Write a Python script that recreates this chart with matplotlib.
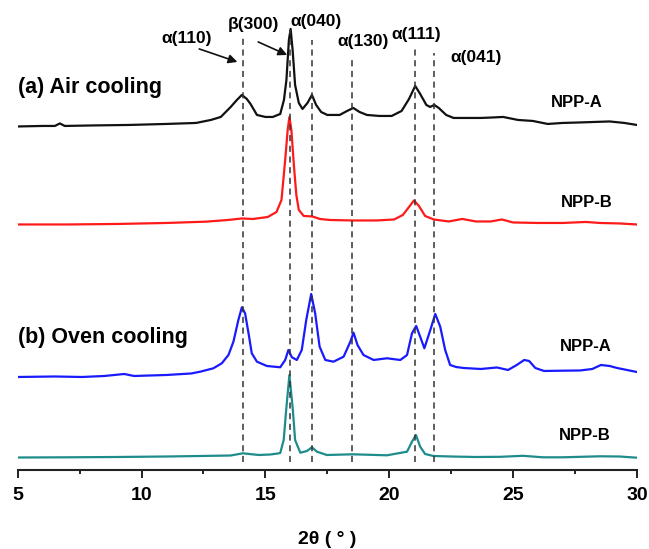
import matplotlib.pyplot as plt
from matplotlib.ticker import MultipleLocator

plt.rcParams['font.family'] = 'Liberation Sans'
plt.rcParams['font.weight'] = 'bold'

# (a) air cooling, NPP-A
air_a_2theta = [5.0, 6.0, 6.5, 6.7, 6.9, 8.0, 9.5, 11.0, 12.2, 12.8, 13.2, 13.6, 13.85, 14.05, 14.25,
                14.4, 14.66, 15.0, 15.3, 15.6, 15.75, 15.85, 15.95, 16.02, 16.1, 16.2, 16.35, 16.5, 16.7,
                16.88, 17.05, 17.25, 17.5, 18.0, 18.3, 18.55, 18.8, 19.1, 19.6, 20.1, 20.5, 20.8, 21.05,
                21.25, 21.5, 21.65, 21.82, 22.0, 22.3, 22.6, 23.2, 23.7, 24.2, 24.6, 25.2, 25.8, 26.4,
                27.0, 27.7, 28.3, 28.9, 29.5, 30.0]
air_a_counts = [3.5, 4, 4, 6.5, 4, 4.5, 5, 6, 7, 10, 13, 23, 30, 35, 31,
                26, 15, 13, 13, 16, 30, 50, 90, 101, 80, 45, 27, 21, 27,
                35, 25, 18, 15, 15, 19, 22, 18, 15, 14, 14, 19, 31, 44,
                36, 25, 23, 25, 22, 15, 12, 12, 12, 12.5, 13, 10, 9, 6,
                7, 7.5, 8, 8.5, 7, 5]

# (a) air cooling, NPP-B
air_b_2theta = [5.0, 7.0, 9.0, 11.0, 12.6, 13.5, 14.05, 14.5, 15.1, 15.45, 15.65, 15.8, 15.9, 15.97,
                16.05, 16.15, 16.25, 16.35, 16.55, 16.9, 17.2, 17.6, 18.5, 19.5, 20.2, 20.55, 20.8, 21.0,
                21.2, 21.45, 21.8, 22.4, 22.95, 23.5, 24.1, 24.55, 25.0, 26.0, 27.0, 27.95, 28.5, 29.3, 30.0]
air_b_counts = [5.5, 5.5, 6, 7, 8.3, 10, 11.5, 11, 13, 18, 30, 70, 100, 113,
                100, 65, 35, 20, 14, 13.5, 11, 10, 9.5, 9.5, 10.5, 15, 23, 29.5,
                24, 14, 10.5, 8.5, 11, 8.5, 8.5, 10.5, 7.5, 7, 7, 8, 7, 6.5, 5.5]

# (b) oven cooling, NPP-A
oven_a_2theta = [5.0, 6.5, 7.6, 8.5, 9.3, 9.7, 11.0, 12.0, 12.37, 12.9, 13.24, 13.51, 13.71, 13.91,
                 14.05, 14.18, 14.32, 14.45, 14.66, 15.06, 15.6, 15.8, 15.93, 16.07, 16.27, 16.47, 16.65,
                 16.85, 17.01, 17.19, 17.42, 17.75, 18.16, 18.43, 18.56, 18.72, 18.96, 19.37, 19.91,
                 20.45, 20.72, 20.92, 21.09, 21.25, 21.42, 21.66, 21.86, 22.06, 22.26, 22.46, 22.7,
                 23.0, 23.7, 24.35, 24.8, 25.15, 25.45, 25.65, 25.9, 26.25, 27.0, 27.7, 28.2, 28.55,
                 28.9, 29.2, 29.5, 30.0]
oven_a_counts = [5, 5.5, 5, 6, 8, 6, 7, 8.5, 10.3, 13.7, 18.7, 27, 40.3, 62,
                 74.7, 68.7, 48.7, 28.7, 20.3, 16, 14.7, 22, 32, 24.7, 22, 32, 62,
                 88, 68.7, 35.3, 22, 20.3, 25.3, 40.3, 49.3, 37, 27, 22, 23.7,
                 22, 27, 48.7, 56, 45.3, 33.7, 52, 68, 55.3, 32, 17, 15,
                 14, 13, 14.5, 12, 17, 22, 21, 14, 11, 11.3, 11.5, 13, 17,
                 16, 14, 12.5, 10]

# (b) oven cooling, NPP-B
oven_b_2theta = [5.0, 7.0, 9.0, 11.0, 12.37, 13.6, 14.09, 14.73, 15.2, 15.5, 15.6, 15.74, 15.84, 15.97,
                 16.11, 16.2, 16.41, 16.68, 16.88, 17.08, 17.48, 18.53, 19.91, 20.72, 20.92, 21.08,
                 21.25, 21.45, 21.79, 22.5, 23.5, 24.5, 25.4, 26.2, 27.0, 28.5, 29.3, 30.0]
oven_b_counts = [6.5, 6.7, 7, 7.5, 8, 8.5, 10.7, 9, 9.5, 10.5, 11, 24, 54, 89,
                 54, 24, 11.3, 13, 16.7, 12.3, 9, 9.7, 8.7, 12.3, 22.3, 29,
                 17.3, 10, 8, 7.5, 7, 7.2, 8.2, 6.7, 6.7, 7.7, 7.5, 6.3]

offsets = [340, 240, 88, 6]
sample_names = ['NPP-A', 'NPP-B', 'NPP-A', 'NPP-B']

# reflections marked with dashed lines
reflection_2theta = [14.1, 16.0, 16.9, 18.5, 21.05, 21.8]
reflection_labels = ['\u03b1(110)', '\u03b2(300)', '\u03b1(040)', '\u03b1(130)', '\u03b1(111)', '\u03b1(041)']


def xrd_patterns(save_image=True, show=False):
    fig = plt.figure(figsize=(6.49, 5.49), dpi=100)
    ax = fig.add_axes([0.0273, 0.1439, 0.954, 0.838])

    patterns = [(air_a_2theta, air_a_counts, '#111111'),
                (air_b_2theta, air_b_counts, '#ff1a1a'),
                (oven_a_2theta, oven_a_counts, '#1a1aff'),
                (oven_b_2theta, oven_b_counts, '#1f8c8c')]

    for (tt, counts, color), off in zip(patterns, offsets):
        ax.plot(tt, [c + off for c in counts], color=color, lw=1.6, zorder=2,
                solid_joinstyle='round', solid_capstyle='round')

    # dashed guides, each one stops under its own label
    line_tops = [432, 440, 430, 412, 425, 417]
    ax.vlines(reflection_2theta, 8, line_tops, colors='#333333', linestyles=(0, (4, 3)), lw=1.1, zorder=3)

    label_pos = [(11.84, 431), (14.51, 445), (17.05, 448), (18.95, 428), (21.09, 435), (23.52, 412)]
    for lbl, (x, y) in zip(reflection_labels, label_pos):
        ax.text(x, y, lbl, ha='center', va='center', fontsize=12.5)

    arrow = dict(arrowstyle='-|>', color='#111111', lw=1.2, mutation_scale=13, shrinkA=0, shrinkB=0)
    ax.annotate('', xy=(13.87, 408), xytext=(12.33, 421), arrowprops=arrow)
    ax.annotate('', xy=(15.88, 415), xytext=(14.71, 428), arrowprops=arrow)

    ax.text(5.0, 382, '(a) Air cooling', ha='left', va='center', fontsize=15.5)
    ax.text(5.0, 132, '(b) Oven cooling', ha='left', va='center', fontsize=15.5)

    name_pos = [(27.58, 367), (27.98, 267), (27.92, 123), (27.9, 34)]
    for name, (x, y) in zip(sample_names, name_pos):
        ax.text(x, y, name, ha='center', va='center', fontsize=12)

    ax.set_xlim(5, 30)
    ax.set_ylim(0, 460)
    ax.xaxis.set_major_locator(MultipleLocator(5))
    ax.xaxis.set_minor_locator(MultipleLocator(2.5))
    ax.set_yticks([])
    for side in ['left', 'right', 'top']:
        ax.spines[side].set_visible(False)
    ax.spines['bottom'].set_linewidth(1.5)
    ax.spines['bottom'].set_color('#222222')
    ax.tick_params(axis='x', which='major', length=6, width=1.4, labelsize=14, pad=6, color='#222222')
    ax.tick_params(axis='x', which='minor', length=3, width=1.4, color='#222222')
    ax.set_xlabel('2\u03b8 ( \u00b0 )', fontsize=14, fontweight='bold', labelpad=20)

    if save_image:
        fig.savefig('out.png', dpi=100)

    if show:
        plt.show()

    plt.close()


xrd_patterns()
